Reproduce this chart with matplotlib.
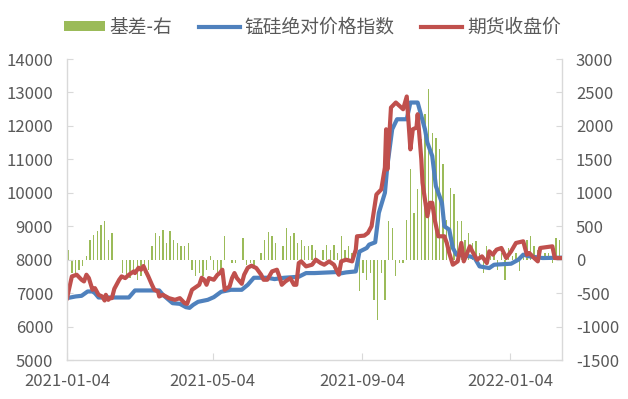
import pandas as pd
import matplotlib
matplotlib.use('Agg')
import matplotlib.pyplot as plt
import matplotlib.dates as mdates
from matplotlib.patches import Patch
from matplotlib.lines import Line2D

plt.rcParams['font.family'] = ['Noto Sans CJK SC', 'DejaVu Sans']
plt.rcParams['axes.unicode_minus'] = False

# Futures close price (left axis)
futures_dates = [
    '2021-01-04', '2021-01-08', '2021-01-12', '2021-01-16', '2021-01-18', '2021-01-20',
    '2021-01-22', '2021-01-25', '2021-01-27', '2021-01-30', '2021-02-02', '2021-02-04',
    '2021-02-05', '2021-02-07', '2021-02-08', '2021-02-10', '2021-02-12', '2021-02-16',
    '2021-02-18', '2021-02-21', '2021-02-24', '2021-02-28', '2021-03-01', '2021-03-04',
    '2021-03-06', '2021-03-08', '2021-03-10', '2021-03-12', '2021-03-15', '2021-03-17',
    '2021-03-20', '2021-03-21', '2021-03-24', '2021-03-29', '2021-04-03', '2021-04-07',
    '2021-04-11', '2021-04-13', '2021-04-17', '2021-04-21', '2021-04-23', '2021-04-25',
    '2021-04-27', '2021-04-29', '2021-05-01', '2021-05-05', '2021-05-08', '2021-05-10',
    '2021-05-12', '2021-05-14', '2021-05-18', '2021-05-20', '2021-05-22', '2021-05-24',
    '2021-05-28', '2021-05-30', '2021-06-02', '2021-06-05', '2021-06-09', '2021-06-13',
    '2021-06-15', '2021-06-18', '2021-06-22', '2021-06-26', '2021-06-28', '2021-06-30',
    '2021-07-03', '2021-07-07', '2021-07-10', '2021-07-12', '2021-07-14', '2021-07-16',
    '2021-07-20', '2021-07-25', '2021-07-28', '2021-08-01', '2021-08-04', '2021-08-08',
    '2021-08-12', '2021-08-16', '2021-08-18', '2021-08-22', '2021-08-27', '2021-08-30',
    '2021-08-31', '2021-09-06', '2021-09-09', '2021-09-12', '2021-09-16', '2021-09-20',
    '2021-09-23', '2021-09-24', '2021-09-25', '2021-09-28', '2021-10-02', '2021-10-08',
    '2021-10-11', '2021-10-14', '2021-10-16', '2021-10-19', '2021-10-20', '2021-10-23',
    '2021-10-24', '2021-10-28', '2021-10-30', '2021-11-01', '2021-11-03', '2021-11-06',
    '2021-11-11', '2021-11-13', '2021-11-15', '2021-11-18', '2021-11-22', '2021-11-25',
    '2021-11-27', '2021-12-02', '2021-12-04', '2021-12-08', '2021-12-12', '2021-12-16',
    '2021-12-18', '2021-12-21', '2021-12-24', '2021-12-28', '2022-01-01', '2022-01-05',
    '2022-01-09', '2022-01-15', '2022-01-18', '2022-01-20', '2022-01-24', '2022-01-27',
    '2022-01-29', '2022-02-08', '2022-02-10', '2022-02-16',
]
futures_close = [
    6850, 7500, 7550, 7400, 7350, 7550,
    7450, 7100, 7150, 6950, 6900, 6780,
    6950, 6800, 6850, 6850, 7130, 7400,
    7500, 7450, 7550, 7650, 7600, 7760,
    7700, 7810, 7650, 7500, 7250, 7100,
    7050, 6900, 6950, 6850, 6800, 6850,
    6700, 6680, 7100, 7200, 7250, 7460,
    7400, 7250, 7450, 7400, 7550, 7600,
    7700, 7100, 7200, 7450, 7600, 7450,
    7280, 7550, 7760, 7820, 7750, 7550,
    7400, 7400, 7650, 7700, 7500, 7250,
    7350, 7450, 7250, 7250, 7900, 7950,
    7800, 7850, 8000, 7900, 7850, 7950,
    7850, 7550, 7950, 8000, 7950, 8300,
    8700, 8720, 8800, 9000, 9950, 10100,
    10760, 11900, 10700, 12550, 12700, 12500,
    12880, 11300, 11900, 11950, 12350, 11000,
    10300, 9300, 9700, 9700, 9200, 8700,
    8700, 8500, 8200, 7850, 7950, 8500,
    7950, 8400, 8250, 8000, 8100, 7900,
    8250, 8150, 8300, 8350, 8050, 8250,
    8500, 8550, 8150, 8200, 8050, 7950,
    8350, 8400, 8050, 8050,
]

# Mn-Si absolute price index (left axis)
index_dates = [
    '2021-01-04', '2021-01-11', '2021-01-16', '2021-01-21', '2021-01-25', '2021-01-27',
    '2021-01-30', '2021-02-24', '2021-03-01', '2021-03-21', '2021-03-24', '2021-04-01',
    '2021-04-07', '2021-04-12', '2021-04-15', '2021-04-18', '2021-04-22', '2021-04-30',
    '2021-05-05', '2021-05-11', '2021-05-19', '2021-05-28', '2021-06-02', '2021-06-07',
    '2021-06-18', '2021-06-24', '2021-07-02', '2021-07-14', '2021-07-20', '2021-07-27',
    '2021-08-14', '2021-08-16', '2021-08-22', '2021-08-30', '2021-09-02', '2021-09-08',
    '2021-09-10', '2021-09-15', '2021-09-18', '2021-09-23', '2021-09-25', '2021-09-29',
    '2021-10-03', '2021-10-11', '2021-10-14', '2021-10-20', '2021-10-23', '2021-10-26',
    '2021-10-28', '2021-11-01', '2021-11-04', '2021-11-09', '2021-11-11', '2021-11-15',
    '2021-11-18', '2021-11-21', '2021-12-02', '2021-12-06', '2021-12-10', '2021-12-18',
    '2021-12-22', '2022-01-05', '2022-01-11', '2022-01-15', '2022-01-20', '2022-01-31',
    '2022-02-16',
]
index_price = [
    6850, 6900, 6920, 7050, 7050, 7000,
    6870, 6870, 7080, 7080, 6950, 6700,
    6680, 6580, 6560, 6650, 6740, 6800,
    6880, 7040, 7100, 7100, 7250, 7460,
    7460, 7420, 7460, 7490, 7600, 7600,
    7630, 7580, 7620, 7650, 8240, 8350,
    8450, 8520, 9400, 10000, 10800, 11900,
    12200, 12200, 12700, 12700, 12300, 11900,
    11500, 11100, 10200, 9700, 9000, 8900,
    8350, 8150, 8100, 8050, 7800, 7750,
    7850, 7880, 8000, 8150, 8100, 8050,
    8060,
]

# Basis (right axis), one value every 3 days from 2021-01-05
basis_dates = pd.date_range('2021-01-05', periods=136, freq='3D')
basis = [
    150, -200, -250, -150, -100, 50, 300, 375, 425, 525,
    575, 300, 400, 0, 0, -200, -250, -275, -200, -300,
    -250, -200, -150, 200, 400, 350, 450, 250, 425, 300,
    250, 200, 200, 250, -150, -250, -200, -250, -150, 50,
    -150, -200, -150, 350, 0, -50, -50, 0, 325, -75,
    -50, -75, 0, 100, 300, 420, 350, 250, 0, 200,
    475, 350, 400, 250, 300, 200, 200, 225, 150, 0,
    150, 225, 150, 225, 100, 360, 150, 200, 100, 0,
    -475, -200, -300, -200, -600, -900, -200, -600, 575, 475,
    -250, -50, -50, 600, 1350, 700, 1050, 1800, 2175, 2550,
    1900, 1825, 1650, 1425, 600, 1075, 975, 575, 575, 300,
    400, 250, 275, 100, -200, 200, 50, 150, -150, 100,
    -300, 175, 50, 100, -175, 100, 300, 350, 200, 150,
    50, 100, 100, -50, 325, 300,
]

green = '#9BBB59'
blue = '#4F81BD'
red = '#C0504D'
grey_text = '#595959'
spine_col = '#D9D9D9'

fig = plt.figure(figsize=(6.28, 3.99), dpi=100)
ax = fig.add_axes([0.1067, 0.0977, 0.7883, 0.7543])
ax2 = ax.twinx()

ax2.bar(basis_dates, basis, width=1.1, color=green, linewidth=0)
ax.plot(pd.to_datetime(index_dates), index_price, color=blue, lw=3.0, solid_joinstyle='round')
ax.plot(pd.to_datetime(futures_dates), futures_close, color=red, lw=3.0, solid_joinstyle='round')

ax.set_zorder(ax2.get_zorder() + 1)
ax.patch.set_visible(False)

ax.set_xlim(pd.Timestamp('2021-01-04'), pd.Timestamp('2022-02-16'))
ax.set_ylim(5000, 14000)
ax.set_yticks(range(5000, 14001, 1000))
ax2.set_ylim(-1500, 3000)
ax2.set_yticks(range(-1500, 3001, 500))

xticks = pd.to_datetime(['2021-01-04', '2021-05-04', '2021-09-04', '2022-01-04'])
ax.set_xticks(xticks)
ax.xaxis.set_major_formatter(mdates.DateFormatter('%Y-%m-%d'))

for a in (ax, ax2):
    for s in a.spines.values():
        s.set_visible(False)
ax.spines['left'].set_visible(True)
ax.spines['bottom'].set_visible(True)
ax2.spines['right'].set_visible(True)
for s in (ax.spines['left'], ax.spines['bottom'], ax2.spines['right']):
    s.set_color(spine_col)
    s.set_linewidth(1.0)

ax.tick_params(axis='y', direction='in', length=4, color=spine_col, labelsize=12,
               labelcolor=grey_text, pad=10)
ax.tick_params(axis='x', direction='in', length=5, color=spine_col, labelsize=12,
               labelcolor=grey_text, pad=9)
ax2.tick_params(axis='y', direction='in', length=4, color=spine_col, labelsize=12,
                labelcolor=grey_text, pad=10)

handles = [
    Patch(facecolor=green, edgecolor='none'),
    Line2D([0], [0], color=blue, lw=3.0),
    Line2D([0], [0], color=red, lw=3.0),
]
labels = ['基差-右', '锰硅绝对价格指数', '期货收盘价']
fig.legend(handles, labels, loc='center', bbox_to_anchor=(0.497, 0.932), ncol=3,
           frameon=False, fontsize=13.5, labelcolor=grey_text, handlelength=2.2,
           handleheight=0.45, handletextpad=0.25, columnspacing=1.4)

plt.savefig('out.png', dpi=100)
